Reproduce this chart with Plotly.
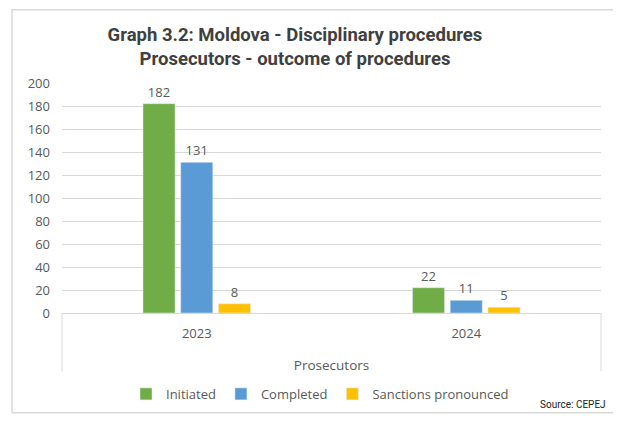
import plotly.graph_objects as go

categories = ["2023", "2024"]
initiated = [182, 22]
completed = [131, 11]
sanctions = [8, 5]
series_names = ["Initiated", "Completed", "Sanctions pronounced"]
colors = ["#70AD47", "#5B9BD5", "#FFC000"]
y_ticks = [0, 20, 40, 60, 80, 100, 120, 140, 160, 180, 200]

OFF = 8  # page body margin
W, H = 621 - OFF, 421 - OFF
L, R, T, B = 54, 20, 75, 105
pw, ph = W - L - R, H - T - B

def px2x(px):
    return (px - OFF - L) / pw

def py2y(py):
    return (H - B - (py - OFF)) / ph

fig = go.Figure()
for name, vals, c in zip(series_names, [initiated, completed, sanctions], colors):
    fig.add_trace(go.Bar(
        x=categories, y=vals, name=name, marker_color=c,
        text=[str(v) for v in vals], textposition="outside",
        textfont=dict(size=13, color="#595959", family="Open Sans"),
        cliponaxis=False,
    ))

shapes = [
    dict(type="line", xref="paper", yref="paper", x0=0, x1=0, y0=0, y1=py2y(375),
         line=dict(color="#d9d9d9", width=1)),
    dict(type="line", xref="paper", yref="paper", x0=1, x1=1, y0=0, y1=py2y(375),
         line=dict(color="#d9d9d9", width=1)),
    dict(type="rect", xref="paper", yref="paper", x0=px2x(12), x1=px2x(618),
         y0=py2y(417), y1=py2y(OFF + 0.8), line=dict(color="#d9d9d9", width=1.5)),
]

fig.update_layout(
    width=W, height=H,
    margin=dict(l=L, r=R, t=T, b=B),
    paper_bgcolor="white", plot_bgcolor="white",
    barmode="group", bargap=0.58, bargroupgap=0.15,
    font=dict(family="Open Sans", color="#595959", size=13),
    title=dict(
        text="<b>Graph 3.2: Moldova - Disciplinary procedures<br>Prosecutors - outcome of procedures</b>",
        x=(295 - OFF) / W, xanchor="center", y=1 - (41 - OFF) / H, yanchor="middle",
        font=dict(family="Roboto", size=18.5, color="#404040"),
    ),
    xaxis=dict(
        showline=True, linecolor="#d9d9d9", linewidth=1, ticks="",
        tickfont=dict(size=13, color="#595959"), ticklabelstandoff=8,
        title=dict(text="Prosecutors", font=dict(size=13.5, color="#595959"), standoff=19),
    ),
    yaxis=dict(
        range=[0, 200], tickvals=y_ticks, showgrid=True, gridcolor="#d9d9d9",
        zeroline=False, showline=False, ticks="", ticklabelstandoff=11,
        tickfont=dict(size=13, color="#595959"),
    ),
    legend=dict(
        orientation="h", x=px2x(126), xanchor="left", y=py2y(398), yanchor="middle",
        font=dict(size=13, color="#595959"), itemwidth=30, traceorder="normal",
    ),
    shapes=shapes,
    annotations=[dict(
        text="Source: CEPEJ", xref="paper", yref="paper",
        x=px2x(608), y=py2y(409), xanchor="right", yanchor="middle",
        showarrow=False, font=dict(family="Roboto", size=10, color="#222222"),
    )],
)

fig.write_html("out.html")
